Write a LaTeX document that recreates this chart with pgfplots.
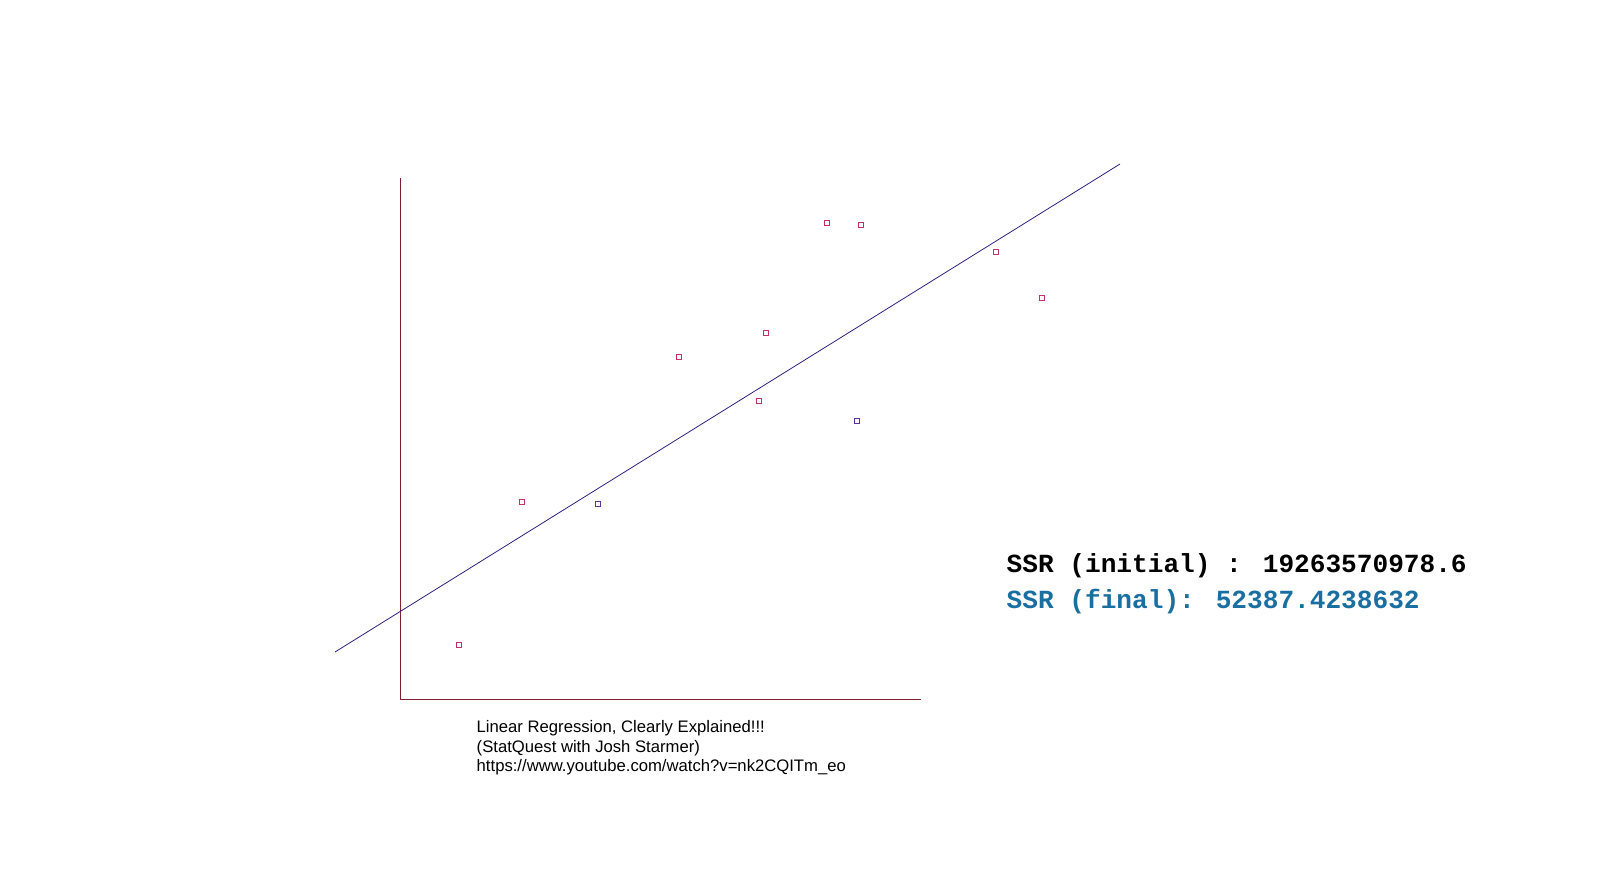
\documentclass[border=0pt]{standalone}
\usepackage{pgfplots}
\pgfplotsset{compat=1.18}
\usepackage{fontspec}
\setmainfont{Liberation Sans}
\newfontfamily\mono{Liberation Mono}
\definecolor{pt}{HTML}{C03070}
\definecolor{ptb}{HTML}{6030A0}
\definecolor{ln}{HTML}{302080}
\definecolor{ax}{HTML}{802030}
\definecolor{ssr}{HTML}{1A6EA0}
\begin{document}
\begin{tikzpicture}
\begin{axis}[x=0.75pt,y=-0.75pt,scale only axis,hide axis,xmin=0,xmax=1598,ymin=0,ymax=879,clip=false]
\addplot[draw=none] coordinates {(0,0)(1598,879)};
\addplot[ax,line width=0.6pt] coordinates {(400,178)(400,699)(921,699)};
\addplot[ln,line width=0.6pt] coordinates {(335,652)(1120,164)};
\addplot[only marks,mark=square,mark size=1.8pt,pt,line width=0.5pt] coordinates {
(459,645)(522,502)(679,357)(766,333)(759,401)(827,223)(861,225)(996,252)(1042,298)};
\addplot[only marks,mark=square,mark size=1.8pt,ptb,line width=0.5pt] coordinates {(598,504)(857,421)};
\node[anchor=west,align=left,font=\fontsize{12.5}{14.6}\selectfont] at (axis cs:472,748) {Linear Regression, Clearly Explained!!!\\(StatQuest with Josh Starmer)\\https://www.youtube.com/watch?v=nk2CQITm\_eo};
\node[anchor=west,font=\mono\bfseries\fontsize{19.6}{22}\selectfont] at (axis cs:1002,566) {SSR (initial) : 19263570978.6};
\node[anchor=west,font=\mono\bfseries\fontsize{19.6}{22}\selectfont,ssr] at (axis cs:1002,602) {SSR (final): 52387.4238632};
\end{axis}
\pgfresetboundingbox
\path[use as bounding box] (current axis.south west) rectangle (current axis.north east);
\end{tikzpicture}
\end{document}
